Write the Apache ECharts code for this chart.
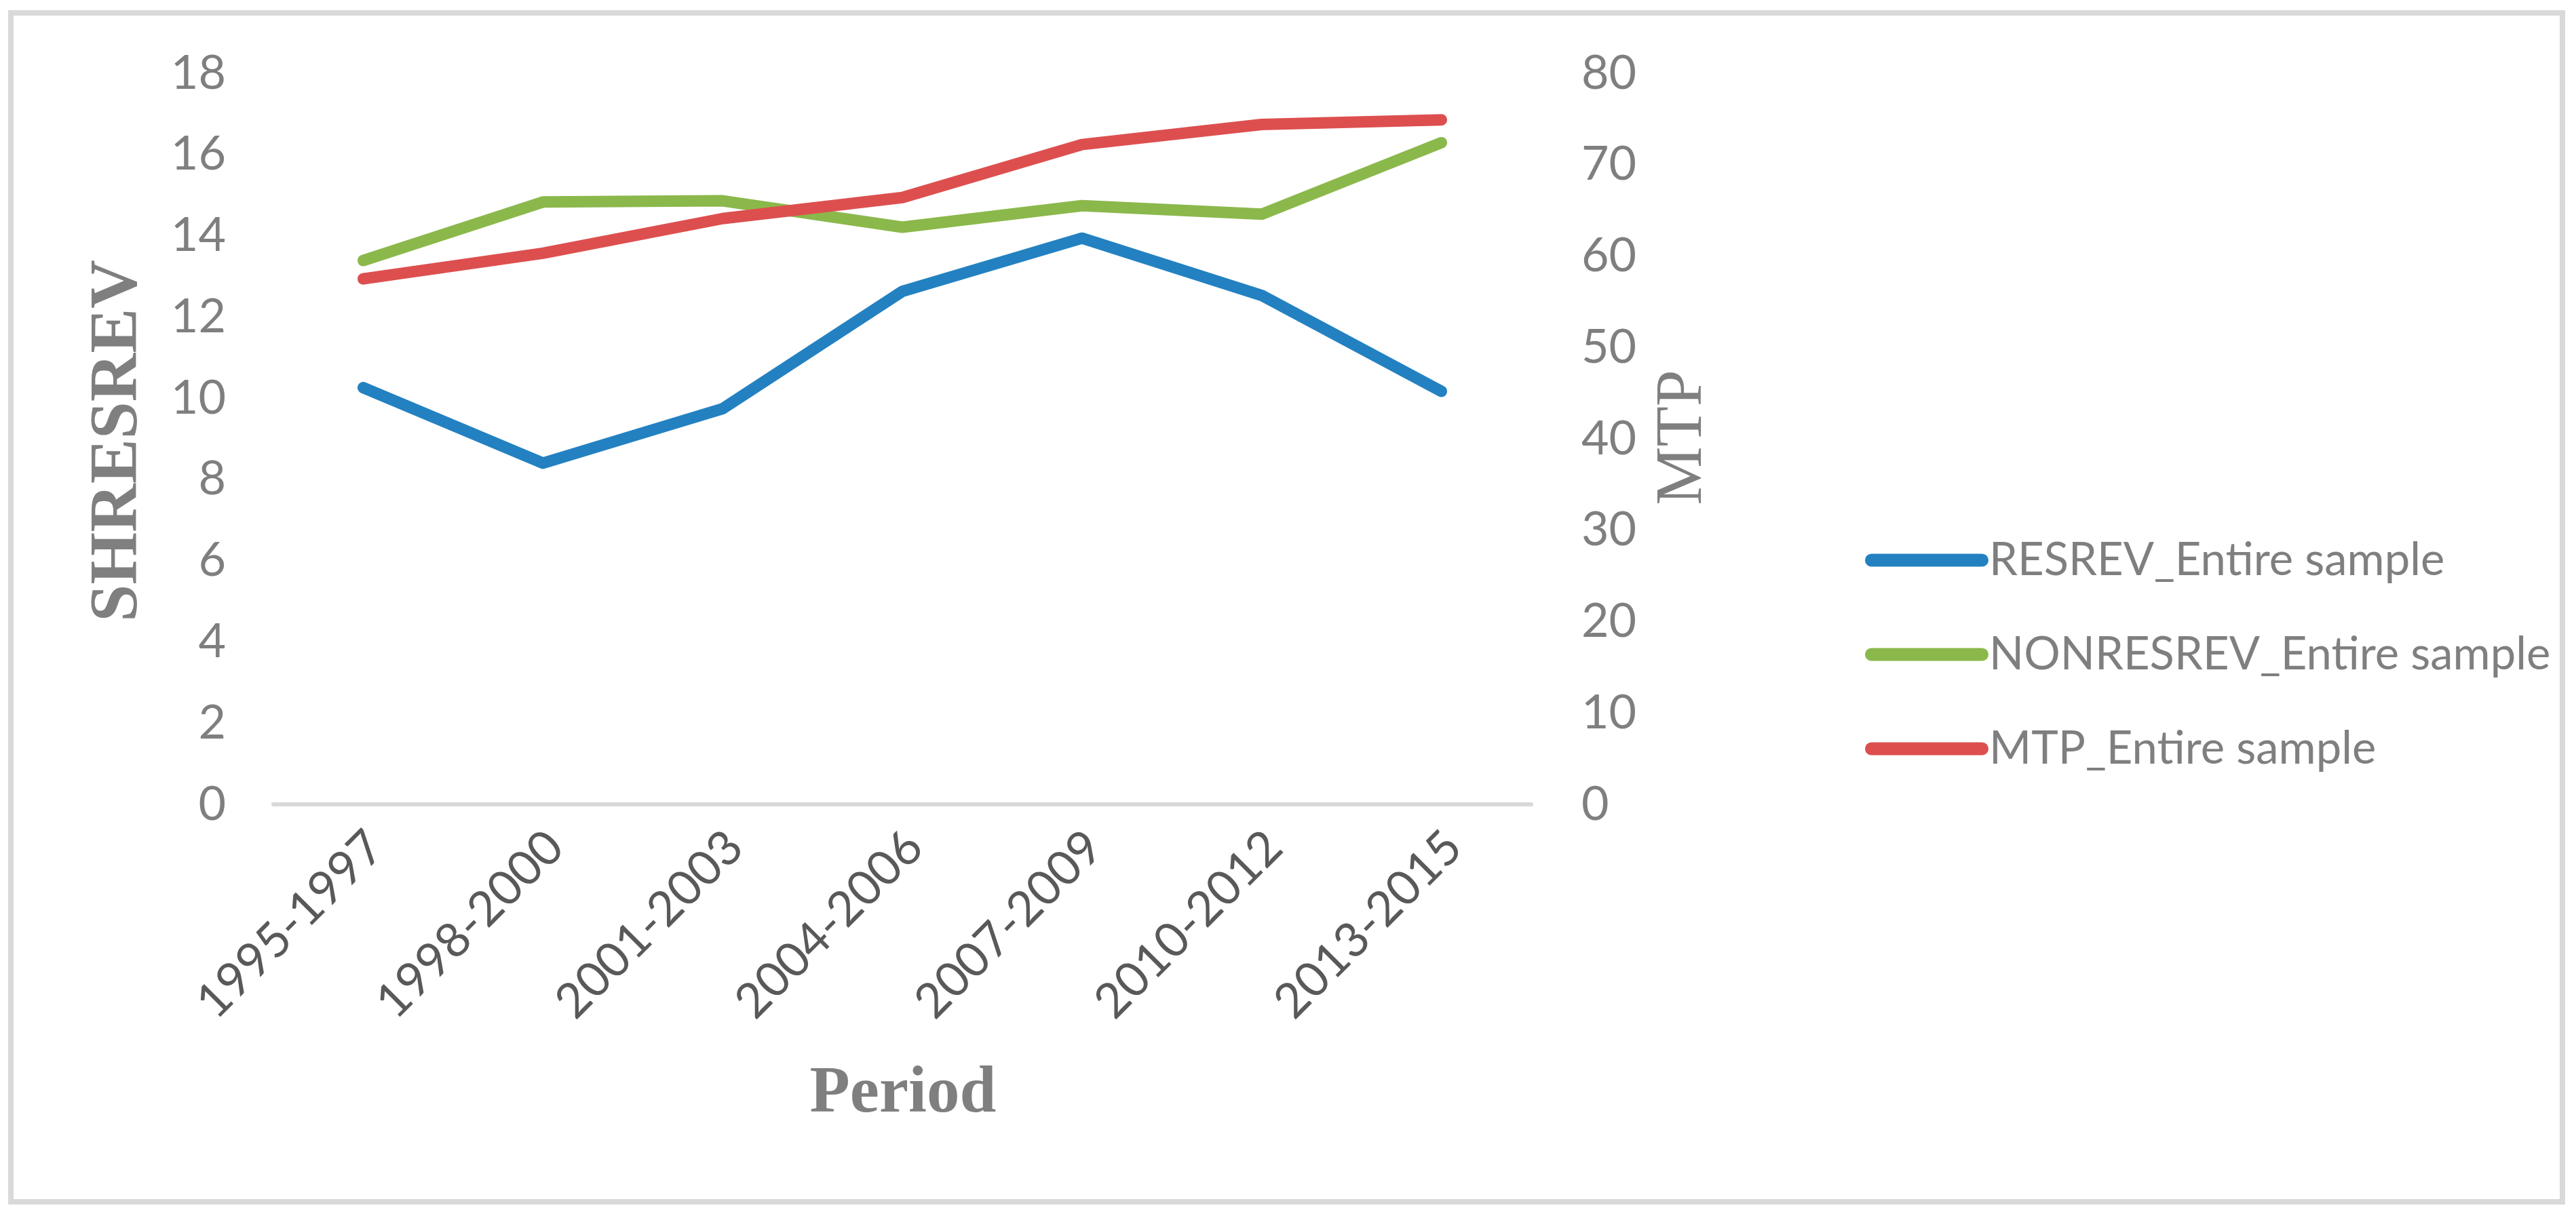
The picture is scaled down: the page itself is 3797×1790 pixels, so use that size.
<!DOCTYPE html>
<html>
<head>
<meta charset="utf-8">
<script src="https://cdn.jsdelivr.net/npm/echarts@6/dist/echarts.min.js"></script>
<style>
html,body{margin:0;padding:0;background:#fff;}
#chart{width:3797px;height:1790px;}
</style>
</head>
<body>
<div id="chart"></div>
<script>
// ---- data ----
const categories = ['1995-1997','1998-2000','2001-2003','2004-2006','2007-2009','2010-2012','2013-2015'];
const resrev = [10.26, 8.40, 9.74, 12.63, 13.94, 12.53, 10.17];
const nonresrev = [13.39, 14.83, 14.86, 14.21, 14.74, 14.53, 16.29];
const mtp = [57.5, 60.3, 64.1, 66.4, 72.2, 74.4, 74.9];
const seriesNames = ['RESREV_Entire sample','NONRESREV_Entire sample','MTP_Entire sample'];
const leftTicks = {min:0, max:18, interval:2};
const rightTicks = {min:0, max:80, interval:10};

const colors = ['#2381C1','#8BB84B','#DD4F4F'];
const sans = 'Lato, "Noto Sans", sans-serif';
const serif = '"Liberation Serif", "DejaVu Serif", serif';

const chart = echarts.init(document.getElementById('chart'), null, {renderer:'canvas'});
const lineStyle = (c) => ({color:c, width:17, cap:'round', join:'round'});
const capsule = 'path://M9.5,0 L172.5,0 A9.5,9.5 0 0 1 172.5,19 L9.5,19 A9.5,9.5 0 0 1 9.5,0 Z';

chart.setOption({
  animation:false,
  backgroundColor:'#fff',
  color:colors,
  grid:{left:403, right:1540, top:108, bottom:604, containLabel:false},
  legend:{
    orient:'vertical', left:2744, top:787,
    itemWidth:182, itemHeight:19, itemGap:71,
    icon:capsule,
    textStyle:{color:'#7f7f7f', fontFamily:sans, fontSize:67, lineHeight:68, padding:[0,0,0,-4]},
    data:seriesNames.map(n=>({name:n, icon:capsule}))
  },
  xAxis:{
    type:'category', data:categories, boundaryGap:true,
    axisLine:{lineStyle:{color:'#d9d9d9', width:6}},
    axisTick:{show:false},
    axisLabel:{rotate:45, color:'#595959', fontFamily:sans, fontSize:71, margin:70, interval:0, padding:[0,-26,0,0]}
  },
  yAxis:[
    {type:'value', min:leftTicks.min, max:leftTicks.max, interval:leftTicks.interval,
     axisLine:{show:false}, axisTick:{show:false}, splitLine:{show:false},
     axisLabel:{color:'#7f7f7f', fontFamily:sans, fontSize:70, margin:70}},
    {type:'value', min:rightTicks.min, max:rightTicks.max, interval:rightTicks.interval, position:'right',
     axisLine:{show:false}, axisTick:{show:false}, splitLine:{show:false},
     axisLabel:{color:'#7f7f7f', fontFamily:sans, fontSize:70, margin:74}}
  ],
  series:[
    {name:seriesNames[0], type:'line', data:resrev, yAxisIndex:0, showSymbol:false, symbol:'none', lineStyle:lineStyle(colors[0]), z:2},
    {name:seriesNames[1], type:'line', data:nonresrev, yAxisIndex:0, showSymbol:false, symbol:'none', lineStyle:lineStyle(colors[1]), z:3},
    {name:seriesNames[2], type:'line', data:mtp, yAxisIndex:1, showSymbol:false, symbol:'none', lineStyle:lineStyle(colors[2]), z:4}
  ],
  graphic:[
    {type:'rect', shape:{x:16, y:19, width:3761, height:1753}, style:{fill:'none', stroke:'#d9d9d9', lineWidth:8}, silent:true, z:-1},
    {type:'text', x:174, y:650, rotation:Math.PI/2,
     style:{text:'SHRESREV', fill:'#7f7f7f', font:'bold 99px '+serif, textAlign:'center', textVerticalAlign:'middle'}},
    {type:'text', x:2482, y:645, rotation:Math.PI/2,
     style:{text:'MTP', fill:'#7f7f7f', font:'97px '+serif, textAlign:'center', textVerticalAlign:'middle'}},
    {type:'text', x:1331, y:1614,
     style:{text:'Period', fill:'#7f7f7f', font:'bold 97px '+serif, textAlign:'center', textVerticalAlign:'middle'}}
  ]
});
</script>
</body>
</html>
